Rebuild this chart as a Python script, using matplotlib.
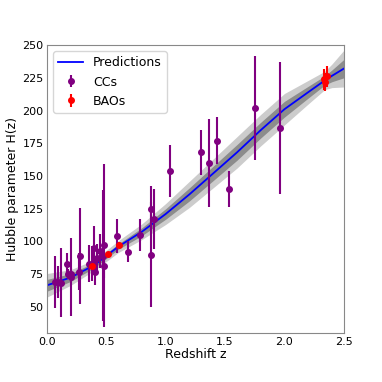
import numpy as np
import matplotlib
matplotlib.use('Agg')
import matplotlib.pyplot as plt

# cosmic chronometer measurements (z, H, sigma)
cc_z = [0.07, 0.09, 0.12, 0.17, 0.179, 0.199, 0.2, 0.27, 0.28, 0.352, 0.3802,
        0.4, 0.4004, 0.4247, 0.4497, 0.47, 0.4783, 0.48, 0.593, 0.68, 0.781,
        0.875, 0.88, 0.9, 1.037, 1.3, 1.363, 1.43, 1.53, 1.75, 1.965]
cc_H = [69, 69, 68.6, 83, 75, 75, 72.9, 77, 88.8, 83, 83,
        95, 77, 87.1, 92.8, 89, 80.9, 97, 104, 92, 105,
        125, 90, 117, 154, 168, 160, 177, 140, 202, 186.5]
cc_err = [19.6, 12, 26.2, 8, 4, 5, 29.6, 14, 36.6, 14, 13.5,
          17, 10.2, 11.2, 12.9, 50, 9, 62, 13, 8, 12,
          17, 40, 23, 20, 17, 33.6, 18, 14, 40, 50.4]

# BAO measurements
bao_z = [0.38, 0.51, 0.61, 2.33, 2.34, 2.36]
bao_H = [81.5, 90.4, 97.3, 224, 222, 226]
bao_err = [1.9, 1.9, 2.1, 8, 7, 8]

# reconstructed H(z)
pred_z = [0.0, 0.2, 0.4, 0.6, 0.8, 1.0, 1.2, 1.4, 1.6, 1.8, 2.0, 2.2, 2.34, 2.4, 2.5]
pred_H = [66.5, 72.5, 82, 96, 107.5, 121, 136, 152, 168, 185, 201, 214, 223, 226.5, 232]
sig1 = [4.5, 3, 2, 2, 3, 4, 5, 5.5, 6, 6, 6, 4.5, 3.5, 4.5, 7]
sig2 = [9, 6, 4, 4.5, 6, 8, 10, 11, 12, 12, 12, 9, 7, 9, 14]

pz = np.array(pred_z)
pH = np.array(pred_H)
s1 = np.array(sig1)
s2 = np.array(sig2)

fig = plt.figure(figsize=(3.82, 3.82), dpi=100)
ax = fig.add_axes([0.123, 0.128, 0.777, 0.754])

ax.fill_between(pz, pH - s2, pH + s2, color='#cccccc', lw=0)
ax.fill_between(pz, pH - s1, pH + s1, color='#8c8c8c', lw=0)
ax.plot(pz, pH, color='blue', lw=1.3, label='Predictions')

ax.errorbar(cc_z, cc_H, yerr=cc_err, fmt='o', color='purple', ms=4,
            elinewidth=1.5, label='CCs')
ax.errorbar(bao_z, bao_H, yerr=bao_err, fmt='o', color='red', ms=4,
            elinewidth=1.5, label='BAOs')

ax.set_xlim(0, 2.5)
ax.set_ylim(30, 250)
ax.set_yticks([50, 75, 100, 125, 150, 175, 200, 225, 250])
ax.set_xticks([0.0, 0.5, 1.0, 1.5, 2.0, 2.5])
ax.tick_params(labelsize=8, length=0, pad=2.5)
for sp in ax.spines.values():
    sp.set_color('#888888')
ax.set_xlabel('Redshift z', fontsize=9, labelpad=1)
ax.set_ylabel('Hubble parameter H(z)', fontsize=9, labelpad=2)
ax.legend(loc='upper left', fontsize=9)

fig.savefig('out.png')
